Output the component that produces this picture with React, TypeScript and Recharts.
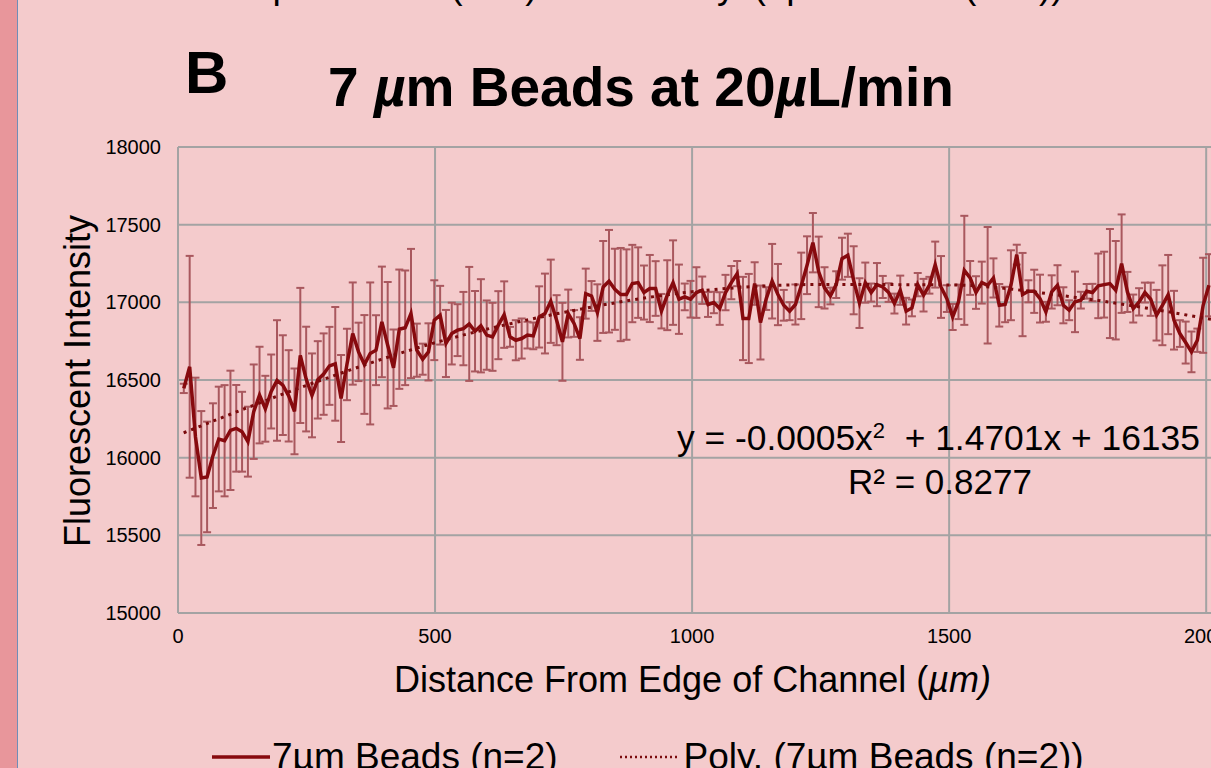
import { LineChart, Line, XAxis, YAxis, CartesianGrid, ErrorBar } from "recharts"

// bead intensity profile, sampled every ~11.3 µm from the channel edge
const STEP_UM = 11.33

const intensity = [
  16446, 16585, 16133, 15869, 15876, 16013, 16120, 16109, 16176, 16189, 16167, 16103, 16296, 16403, 16315, 16426, 16497, 16467, 16398, 16298, 16658, 16506, 16401, 16501, 16538, 16591, 16604, 16381,
  16600, 16799, 16681, 16600, 16671, 16692, 16874, 16724, 16579, 16827, 16836, 16928, 16692, 16634, 16681, 16885, 16917, 16735, 16799, 16821, 16831, 16861, 16814, 16849, 16789, 16778, 16853, 16921, 16778, 16756,
  16767, 16789, 16784, 16906, 16928, 17007, 16885, 16746, 16928, 16864, 16767, 17056, 17041, 16934, 17099, 17136, 17084, 17050, 17050, 17121, 17127, 17063, 17089, 17089, 16943, 17046, 17127, 17020, 17035,
  17020, 17063, 17078, 16986, 16999, 16960, 17063, 17127, 17185, 16896, 16896, 17121, 16870, 17024, 17136, 17050, 16981, 16943, 16986, 17106, 17239, 17384, 17196, 17093, 17041, 17114, 17281, 17303, 17142, 16995,
  17127, 17063, 17114, 17099, 17063, 16992, 17078, 16943, 16964, 17114, 17046, 17110, 17243, 17099, 17024, 16906, 17003, 17206, 17157, 17063, 17127, 17110, 17157, 16981, 16986, 17110, 17307, 17050, 17071,
  17071, 17024, 16939, 17067, 17110, 16981, 16949, 17003, 17014, 17071, 17063, 17106, 17114, 17121, 17078, 17249, 17067, 16960, 17003, 17063, 17020, 16917, 16981, 17050, 16885, 16799, 16741, 16681, 16756, 16981, 17110,
]

const stdDev = [
  30, 714, 382, 431, 356, 337, 337, 358, 384, 279, 257, 225, 304, 311, 212, 238, 388, 321, 294, 276, 435, 337, 270, 249, 262, 251, 366, 280,
  230, 329, 188, 318, 457, 225, 356, 407, 246, 384, 369, 416, 171, 100, 184, 257, 189, 216, 199, 167, 236, 367, 259, 300, 223, 219, 219, 214, 64, 129,
  129, 86, 86, 197, 257, 268, 161, 251, 154, 86, 137, 161, 96, 182, 296, 330, 261, 300, 291, 249, 227, 174, 216, 176, 111, 225, 272, 223, 86,
  118, 163, 88, 80, 69, 105, 114, 107, 81, 268, 287, 137, 238, 73, 240, 197, 99, 58, 129, 214, 186, 191, 227, 133, 54, 86, 135, 139, 219, 160,
  129, 58, 139, 71, 60, 64, 94, 86, 54, 75, 105, 54, 148, 199, 86, 84, 111, 351, 109, 105, 135, 375, 126, 137, 114, 225, 64, 268, 71,
  139, 154, 64, 107, 129, 116, 64, 195, 54, 47, 56, 208, 212, 351, 317, 317, 129, 90, 88, 64, 107, 163, 257, 255, 189, 86, 135, 131, 75, 306, 200,
]

// poly. trendline
const trendX = [11, 250, 500, 750, 1000, 1250, 1500, 1750, 2010]
const trendY = [16160, 16465, 16740, 16935, 17068, 17115, 17112, 17030, 16890]

const yTicks = [15000, 15500, 16000, 16500, 17000, 17500, 18000]
const xTicks = [0, 500, 1000, 1500, 2000]

const seriesName = "7µm Beads (n=2)"
const trendName = "Poly. (7µm Beads (n=2))"

const BG = "#F4CBCC"
const LINE = "#870A0E"
const FONT = "'Liberation Sans', Arial, sans-serif"

function LegendRow({ left, top }: { left: number; top: number }) {
  return (
    <div style={{ position: "absolute", left, top, display: "flex", alignItems: "center", fontFamily: FONT, fontSize: 37, whiteSpace: "nowrap" }}>
      <svg width={58} height={10} style={{ marginRight: 2 }}>
        <line x1={0} y1={5} x2={58} y2={5} stroke={LINE} strokeWidth={3.5} />
      </svg>
      <span style={{ lineHeight: 1 }}>{seriesName}</span>
      <svg width={58} height={10} style={{ marginLeft: 62, marginRight: 6 }}>
        <line x1={0} y1={5} x2={58} y2={5} stroke="#7A0A0C" strokeWidth={2.5} strokeDasharray="2 3" />
      </svg>
      <span style={{ lineHeight: 1 }}>{trendName}</span>
    </div>
  )
}

export default function App() {
  const data = intensity.map((v, i) => ({ x: +(STEP_UM * (i + 1)).toFixed(1), y: v, err: stdDev[i] }))
  const trend = trendX.map((x, i) => ({ x, trend: trendY[i] }))

  const abs = (left: number, top: number, size: number, extra: React.CSSProperties = {}): React.CSSProperties => ({
    position: "absolute",
    left,
    top,
    fontSize: size,
    lineHeight: 1,
    whiteSpace: "nowrap",
    fontFamily: FONT,
    color: "#000",
    ...extra,
  })

  return (
    <div style={{ position: "fixed", left: 0, top: 0, width: 1211, height: 768, overflow: "hidden", background: BG }}>
      <div style={{ position: "absolute", left: 0, top: 0, width: 17, height: 768, background: "#E8969B" }} />
      <div style={{ position: "absolute", left: 17, top: 0, width: 1, height: 768, background: "#6F8DB8" }} />

      {/* tail of the panel above, mostly out of frame */}
      <LegendRow left={192} top={-33} />

      <div style={{ position: "absolute", left: 0, top: 0 }}>
        <LineChart width={1319} height={768} margin={{ top: 147, right: 10, bottom: 95, left: 0 }}>
          <CartesianGrid stroke="#A3A3A3" strokeWidth={2} horizontalValues={yTicks} verticalValues={xTicks} />
          <XAxis
            dataKey="x"
            type="number"
            domain={[0, 2200]}
            ticks={xTicks}
            allowDataOverflow
            axisLine={false}
            tickLine={false}
            tickSize={0}
            tickMargin={16}
            height={60}
            tick={{ fill: "#000", fontSize: 20, fontFamily: FONT }}
          />
          <YAxis
            type="number"
            domain={[15000, 18000]}
            ticks={yTicks}
            width={178}
            axisLine={false}
            tickLine={false}
            tickSize={0}
            tickMargin={17}
            tick={{ fill: "#000", fontSize: 20, fontFamily: FONT }}
          />
          <Line data={data} dataKey="y" type="linear" stroke={LINE} strokeWidth={3.5} dot={false} isAnimationActive={false}>
            <ErrorBar dataKey="err" width={4} stroke="#A9585E" strokeWidth={2} isAnimationActive={false} />
          </Line>
          <Line
            data={trend}
            dataKey="trend"
            type="monotone"
            stroke="#7A0A0C"
            strokeWidth={3}
            strokeDasharray="3 5"
            dot={false}
            isAnimationActive={false}
          />
        </LineChart>
      </div>

      <div style={abs(185, 43, 60, { fontWeight: "bold" })}>B</div>
      <div style={abs(328, 60, 55, { fontWeight: "bold" })}>
        7 <i>µ</i>m Beads at 20<i>µ</i>L/min
      </div>

      <div
        style={abs(78, 381, 36, { transform: "translate(-50%, -50%) rotate(-90deg)", transformOrigin: "center" })}
      >
        Fluorescent Intensity
      </div>
      <div style={abs(394, 662, 36)}>
        Distance From Edge of Channel (<i>µm)</i>
      </div>

      <div style={abs(677, 421, 35.4)}>
        y = -0.0005x<sup style={{ fontSize: 22, verticalAlign: "0.55em", lineHeight: 0 }}>2</sup> &nbsp;+ 1.4701x + 16135
      </div>
      <div style={abs(848, 464, 35)}>R² = 0.8277</div>

      <LegendRow left={212} top={738} />
    </div>
  )
}
